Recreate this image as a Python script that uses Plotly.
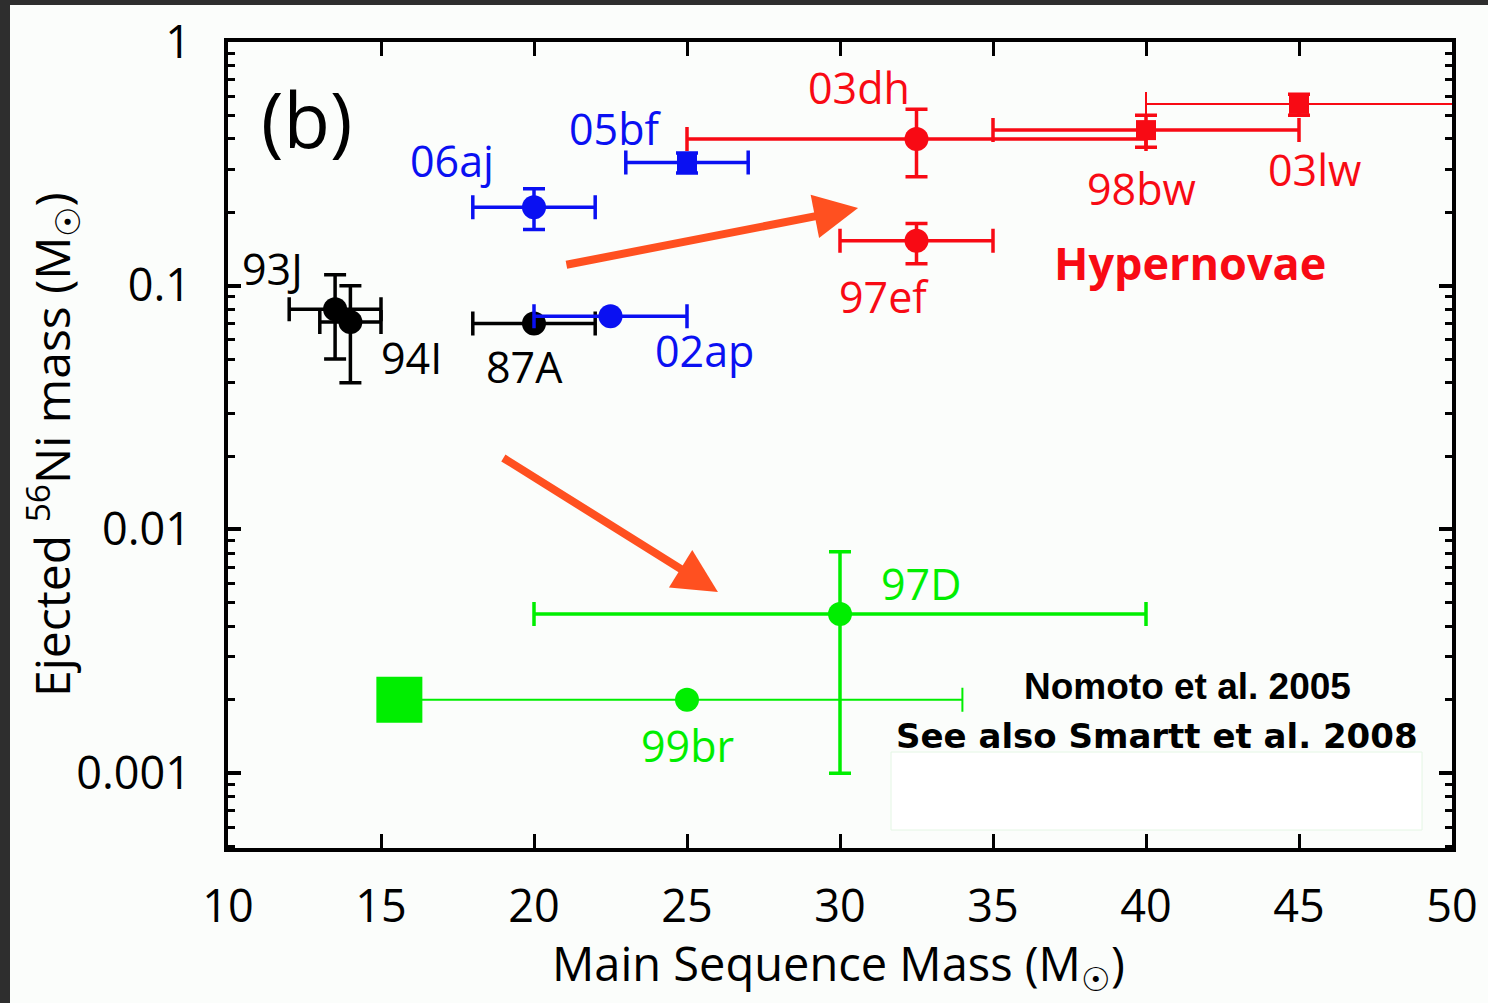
import math
import plotly.graph_objects as go

# Supernova sample: progenitor main-sequence mass vs ejected 56Ni mass
names = ["93J", "94I", "87A", "06aj", "05bf", "02ap",
         "03dh", "98bw", "03lw", "97ef", "97D", "99br"]
groups = ["normal", "normal", "normal", "sn_ic", "sn_ic", "sn_ic",
          "hyper", "hyper", "hyper", "hyper", "faint", "faint"]
mass = [13.5, 14.0, 20.0, 20.0, 25.0, 22.5, 32.5, 40.0, 45.0, 32.5, 30.0, 25.0]
mass_lo = [12.0, 13.0, 18.0, 18.0, 23.0, 20.0, 25.0, 35.0, 40.0, 30.0, 20.0, 15.6]
mass_hi = [15.0, 15.0, 22.0, 22.0, 27.0, 25.0, 40.0, 45.0, 56.0, 35.0, 40.0, 34.0]
ni = [0.080, 0.071, 0.070, 0.21, 0.32, 0.075, 0.40, 0.435, 0.557, 0.153, 0.0045, 0.0020]
ni_lo = [0.050, 0.040, None, 0.17, 0.29, None, 0.28, 0.37, 0.50, 0.123, 0.0010, None]
ni_hi = [0.111, 0.100, None, 0.25, 0.35, None, 0.53, 0.50, 0.61, 0.180, 0.0081, None]

# Lower mass limit drawn at the left end of the 99br bar
limit_mass = [15.6]
limit_ni = [0.0020]

# Label offsets (px) relative to each point
label_dx = [-63, 61, -10, -82, -72, 94, -58, -5, 15, -33, 81, 0]
label_dy = [41, -36, -43, 47, 34, -34, 51, -58, -66, -56, 30, -46]

colors = {"normal": "#000000", "sn_ic": "#0A10F2",
          "hyper": "#F80A14", "faint": "#00EE00"}
square_names = {"05bf", "98bw", "03lw"}
thin_names = {"03lw", "99br"}

LABEL_FONT = "Open Sans, Noto Sans, sans-serif"

fig = go.Figure()

for i, name in enumerate(names):
    col = colors[groups[i]]
    thick = 2 if name in thin_names else 3.5
    ex = dict(type="data", symmetric=False,
              array=[mass_hi[i] - mass[i]], arrayminus=[mass[i] - mass_lo[i]],
              color=col, thickness=thick, width=12)
    if ni_lo[i] is not None:
        ey = dict(type="data", symmetric=False,
                  array=[ni_hi[i] - ni[i]], arrayminus=[ni[i] - ni_lo[i]],
                  color=col, thickness=3.5, width=11)
    else:
        ey = dict(visible=False)
    sym = "square" if name in square_names else "circle"
    size = 20 if name in square_names else 24
    fig.add_trace(go.Scatter(
        x=[mass[i]], y=[ni[i]], mode="markers", name=name,
        marker=dict(symbol=sym, size=size, color=col, line=dict(width=0)),
        error_x=ex, error_y=ey, showlegend=False,
    ))

fig.add_trace(go.Scatter(
    x=limit_mass, y=limit_ni, mode="markers", showlegend=False,
    marker=dict(symbol="square", size=46, color=colors["faint"], line=dict(width=0)),
))

annotations = []
for i, name in enumerate(names):
    annotations.append(dict(
        x=mass[i], y=math.log10(ni[i]), xref="x", yref="y",
        text=name, showarrow=False, xshift=label_dx[i], yshift=label_dy[i],
        font=dict(family=LABEL_FONT, size=43, color=colors[groups[i]]),
    ))

# Page geometry (px)
L, R, T, B = 228, 36, 42, 155
W, H = 1488, 1003
pw, ph = W - L - R, H - T - B

annotations += [
    dict(x=12.58, y=-0.312, xref="x", yref="y", text="(b)", showarrow=False,
         font=dict(family=LABEL_FONT, size=76, color="#000000")),
    dict(x=41.44, y=-0.903, xref="x", yref="y", text="<b>Hypernovae</b>",
         showarrow=False,
         font=dict(family=LABEL_FONT, size=45, color=colors["hyper"])),
    dict(x=41.34, y=-2.643, xref="x", yref="y", text="<b>Nomoto et al. 2005</b>",
         showarrow=False,
         font=dict(family="Liberation Sans, Arial, sans-serif", size=37, color="#000000")),
    dict(x=40.36, y=-2.848, xref="x", yref="y", text="<b>See also Smartt et al. 2008</b>",
         showarrow=False,
         font=dict(family="DejaVu Sans, sans-serif", size=34, color="#000000")),
    # axis titles
    dict(x=(52 - L) / pw, y=0.5, xref="paper", yref="paper", textangle=-90,
         text="Ejected <sup>56</sup>Ni mass (M<sub>☉</sub>)", showarrow=False,
         xanchor="center", yanchor="middle",
         font=dict(family=LABEL_FONT, size=48, color="#000000")),
    dict(x=(838 - L) / pw, y=(H - B - 966) / ph, xref="paper", yref="paper",
         text="Main Sequence Mass (M<sub>☉</sub>)", showarrow=False,
         xanchor="center", yanchor="middle",
         font=dict(family=LABEL_FONT, size=47, color="#000000")),
    # arrows: towards hypernovae and towards faint supernovae
    dict(x=30.59, y=-0.681, ax=21.01, ay=-0.915, xref="x", yref="y",
         axref="x", ayref="y", text="", showarrow=True, arrowhead=2,
         arrowsize=1.1, arrowwidth=8, arrowcolor="#FF5020"),
    dict(x=26.01, y=-2.257, ax=18.95, ay=-1.703, xref="x", yref="y",
         axref="x", ayref="y", text="", showarrow=True, arrowhead=2,
         arrowsize=1.1, arrowwidth=8, arrowcolor="#FF5020"),
]

# Page background with dark strips on the top and left edges
shapes = [
    dict(type="rect", xref="paper", yref="paper", layer="below",
         x0=(10 - L) / pw, x1=(W - L) / pw + 0.05,
         y0=-(B + 40) / ph, y1=(H - B - 5) / ph,
         fillcolor="#FBFDFB", line=dict(width=0)),
    dict(type="rect", xref="paper", yref="paper", layer="below",
         x0=(891 - L) / pw, x1=(1422 - L) / pw,
         y0=(H - B - 830) / ph, y1=(H - B - 752) / ph,
         fillcolor="#FFFFFF", line=dict(color="#E4F6E4", width=1)),
]

minor_vals = [k * 10.0 ** e for e in range(-4, 0) for k in range(2, 10)]

fig.update_layout(
    width=W, height=H, autosize=False,
    margin=dict(l=L, r=R, t=T, b=B, pad=0, autoexpand=False),
    paper_bgcolor="#2E2E2E", plot_bgcolor="#FBFDFB",
    shapes=shapes, annotations=annotations,
    xaxis=dict(
        range=[10, 50], tickvals=[10, 15, 20, 25, 30, 35, 40, 45, 50],
        ticks="inside", ticklen=14, tickwidth=3, tickcolor="#000000",
        showline=True, linewidth=4, linecolor="#000000", mirror="ticks",
        showgrid=False, zeroline=False, ticklabelstandoff=16, automargin=False,
        tickfont=dict(family=LABEL_FONT, size=45, color="#000000"),
    ),
    yaxis=dict(
        type="log", range=[-3.307, 0.0],
        tickvals=[0.001, 0.01, 0.1, 1], ticktext=["0.001", "0.01", "0.1", "1"],
        ticks="inside", ticklen=13, tickwidth=3.5, tickcolor="#000000",
        showline=True, linewidth=4, linecolor="#000000", mirror="ticks",
        showgrid=False, zeroline=False, ticklabelstandoff=24, automargin=False,
        tickfont=dict(family=LABEL_FONT, size=45, color="#000000"),
        minor=dict(tickmode="array", tickvals=minor_vals, ticks="inside",
                   ticklen=7, tickwidth=3, tickcolor="#000000", showgrid=False),
    ),
)

fig.write_html("out.html")
